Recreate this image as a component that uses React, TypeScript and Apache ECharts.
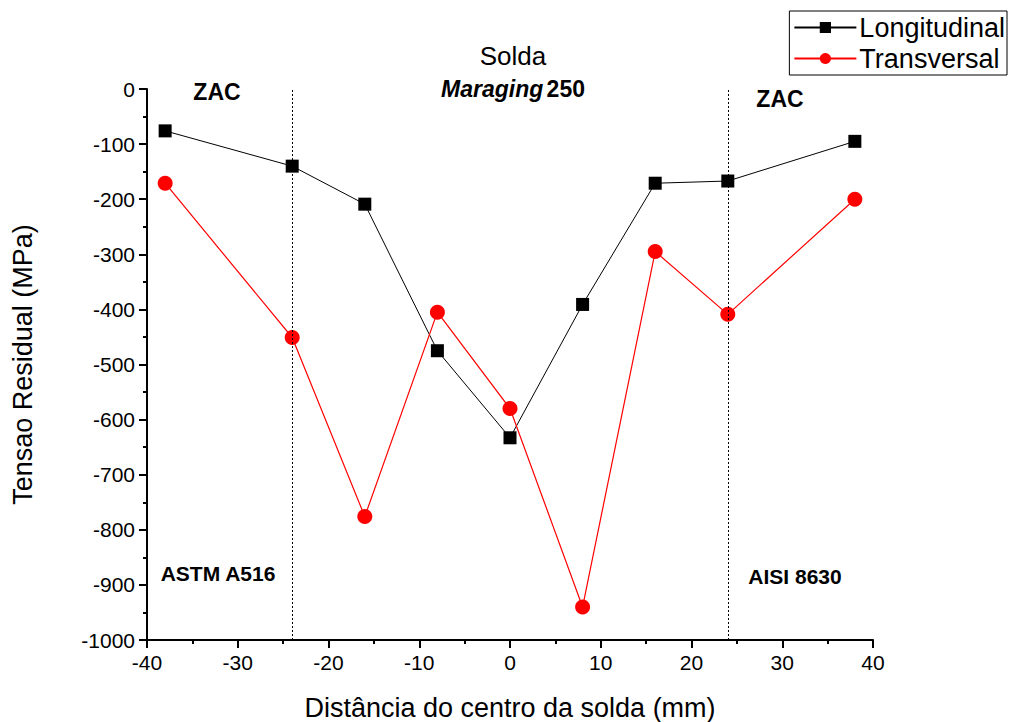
import React, { useEffect, useRef } from "react";
import * as echarts from "echarts";

const xPositions = [-38, -24, -16, -8, 0, 8, 16, 24, 38];
const longitudinal = [-76, -140, -209, -475, -633, -391, -171, -167, -95];
const transversal = [-171, -451, -776, -405, -580, -940, -295, -409, -200];
const zoneLines = [-24, 24];

const FONT = "Liberation Sans, Arial, sans-serif";

export default function App() {
  const ref = useRef<HTMLDivElement>(null);
  useEffect(() => {
    if (!ref.current) return;
    const chart = echarts.init(ref.current, undefined, { renderer: "svg" });
    const axisCommon = {
      axisLine: { show: true, onZero: false, lineStyle: { color: "#000", width: 2 } },
      axisTick: { show: true, inside: false, length: 8, lineStyle: { color: "#000", width: 2 } },
      minorTick: { show: true, splitNumber: 2, length: 4, lineStyle: { color: "#000", width: 2 } },
      splitLine: { show: false },
      axisLabel: { color: "#000", fontSize: 21, fontFamily: FONT, margin: 10, formatter: (v: number) => String(v) },
      nameTextStyle: { color: "#000", fontSize: 27, fontFamily: FONT },
    };
    chart.setOption({
      animation: false,
      backgroundColor: "#fff",
      grid: { left: 147, right: 138, top: 89, bottom: 82, containLabel: false, outerBoundsMode: "none" },
      xAxis: {
        type: "value",
        min: -40,
        max: 40,
        interval: 10,
        name: "Distância do centro da solda (mm)",
        nameLocation: "middle",
        nameGap: 54,
        ...axisCommon,
        axisLabel: { ...axisCommon.axisLabel, margin: 12 },
      },
      yAxis: {
        type: "value",
        min: -1000,
        max: 0,
        interval: 100,
        name: "Tensao Residual (MPa)",
        nameLocation: "middle",
        nameGap: 111,
        ...axisCommon,
        axisLabel: { ...axisCommon.axisLabel, margin: 12 },
      },
      legend: {
        show: true,
        right: 4,
        top: 11,
        orient: "vertical",
        itemWidth: 62,
        itemHeight: 14,
        itemGap: 4,
        padding: [3, 2, 3, 4],
        borderColor: "#000",
        borderWidth: 1,
        backgroundColor: "#fff",
        textStyle: { color: "#000", fontSize: 27, fontFamily: FONT, padding: [0, 0, 0, -2] },
        data: ["Longitudinal", "Transversal"],
      },
      series: [
        {
          name: "Longitudinal",
          type: "line",
          data: xPositions.map((x, i) => [x, longitudinal[i]]),
          symbol: "rect",
          symbolSize: 13,
          itemStyle: { color: "#000" },
          lineStyle: { color: "#000", width: 1 },
          z: 3,
          markLine: {
            silent: true,
            symbol: "none",
            label: { show: false },
            lineStyle: { color: "#000", type: [2, 2], width: 1 },
            data: zoneLines.map((v) => ({ xAxis: v })),
          },
        },
        {
          name: "Transversal",
          type: "line",
          data: xPositions.map((x, i) => [x, transversal[i]]),
          symbol: "circle",
          symbolSize: 15,
          itemStyle: { color: "#ff0000" },
          lineStyle: { color: "#ff0000", width: 1.2 },
          z: 4,
        },
      ],
      graphic: [
        { type: "text", x: 217, y: 92, style: { text: "ZAC", fill: "#000", font: `bold 23px ${FONT}`, textAlign: "center", textVerticalAlign: "middle" } },
        { type: "text", x: 780, y: 99, style: { text: "ZAC", fill: "#000", font: `bold 23px ${FONT}`, textAlign: "center", textVerticalAlign: "middle" } },
        { type: "text", x: 513, y: 56, style: { text: "Solda", fill: "#000", font: `26px ${FONT}`, textAlign: "center", textVerticalAlign: "middle" } },
        {
          type: "text",
          x: 513,
          y: 89,
          style: {
            text: "{i|Maraging} {b|250}",
            textAlign: "center",
            textVerticalAlign: "middle",
            rich: {
              i: { fontStyle: "italic", fontWeight: "bold", fontSize: 23, fontFamily: FONT, fill: "#000" },
              b: { fontWeight: "bold", fontSize: 23, fontFamily: FONT, fill: "#000" },
            },
          },
        },
        { type: "text", x: 218, y: 573, style: { text: "ASTM A516", fill: "#000", font: `bold 21px ${FONT}`, textAlign: "center", textVerticalAlign: "middle" } },
        { type: "text", x: 795, y: 576, style: { text: "AISI 8630", fill: "#000", font: `bold 21px ${FONT}`, textAlign: "center", textVerticalAlign: "middle" } },
      ],
    });
    return () => chart.dispose();
  }, []);
  return <div ref={ref} style={{ width: 1011, height: 722, position: "absolute", left: 0, top: 0 }} />;
}
